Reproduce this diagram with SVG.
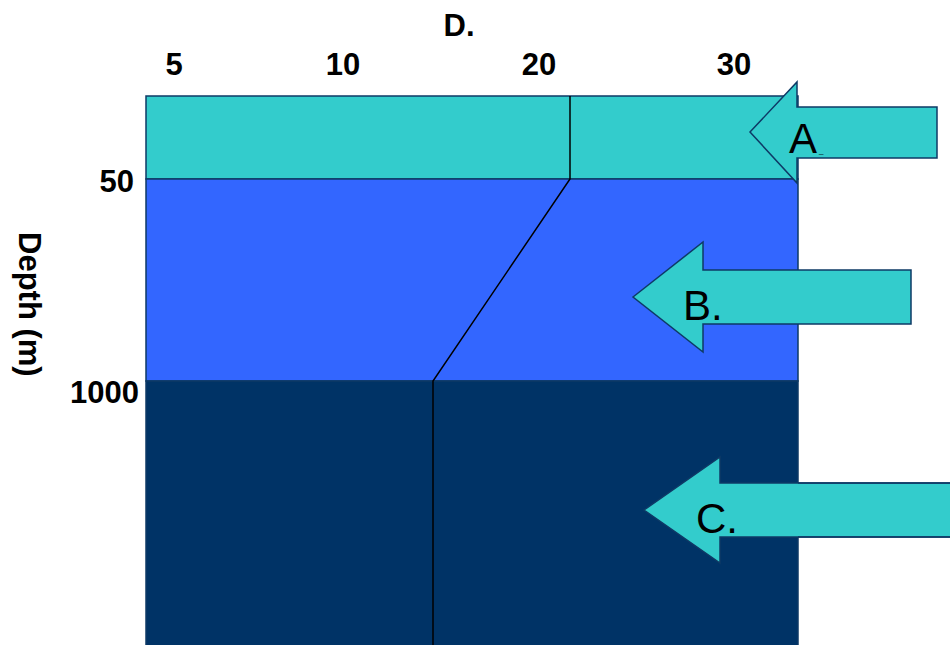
<svg xmlns="http://www.w3.org/2000/svg" width="950" height="645" viewBox="0 0 950 645">
<style>
.lbl{font-family:"Liberation Sans",Arial,sans-serif;font-weight:bold;font-size:31px;fill:#000}
.atx{font-family:"Liberation Sans",Arial,sans-serif;font-size:42px;fill:#000}
.arrow{fill:#33CCCC;stroke:#0E3A66;stroke-width:1.5;stroke-linejoin:miter}
.layer{stroke:#0E3A66;stroke-width:1.5}
</style>
<rect width="950" height="645" fill="#fff"/>
<g id="layers">
<rect id="layer-top" class="layer" x="146" y="96" width="652" height="83" fill="#33CCCC"/>
<rect id="layer-mid" class="layer" x="146" y="179" width="652" height="202" fill="#3366FF"/>
<rect id="layer-bot" class="layer" x="146" y="381" width="652" height="270" fill="#003366"/>
</g>
<g id="connectors">
<polyline points="570,96 570,179 433,381 433,645" fill="none" stroke="#000" stroke-width="1.5"/>
</g>
<g id="labels">
<text class="lbl" x="459" y="36" text-anchor="middle">D.</text>
<text class="lbl" x="174" y="75" text-anchor="middle">5</text>
<text class="lbl" x="343" y="75" text-anchor="middle">10</text>
<text class="lbl" x="539" y="75" text-anchor="middle">20</text>
<text class="lbl" x="734" y="75" text-anchor="middle">30</text>
<text class="lbl" x="134" y="192" text-anchor="end">50</text>
<text class="lbl" x="139" y="403" text-anchor="end">1000</text>
<text class="lbl" transform="translate(19,232) rotate(90)" font-size="32">Depth (m)</text>
</g>
<g id="arrow-a">
<polygon class="arrow" points="750,132 797,82 797,107 937,107 937,158 797,158 797,183"/>
<text class="atx" x="789" y="153">A<tspan font-size="8" dx="2">_</tspan></text>
</g>
<g id="arrow-b">
<polygon class="arrow" points="633,297 703,242 703,270 911,270 911,324 703,324 703,352"/>
<text class="atx" x="683" y="320">B.</text>
</g>
<g id="arrow-c">
<polygon class="arrow" points="644,510 720,457 720,483 955,483 955,537 720,537 720,563" stroke="#003366"/>
<line x1="798" y1="483" x2="950" y2="483" stroke="#0E3A66" stroke-width="1.5"/>
<line x1="798" y1="537" x2="950" y2="537" stroke="#0E3A66" stroke-width="1.5"/>
<text class="atx" x="696" y="533">C.</text>
</g>
</svg>
